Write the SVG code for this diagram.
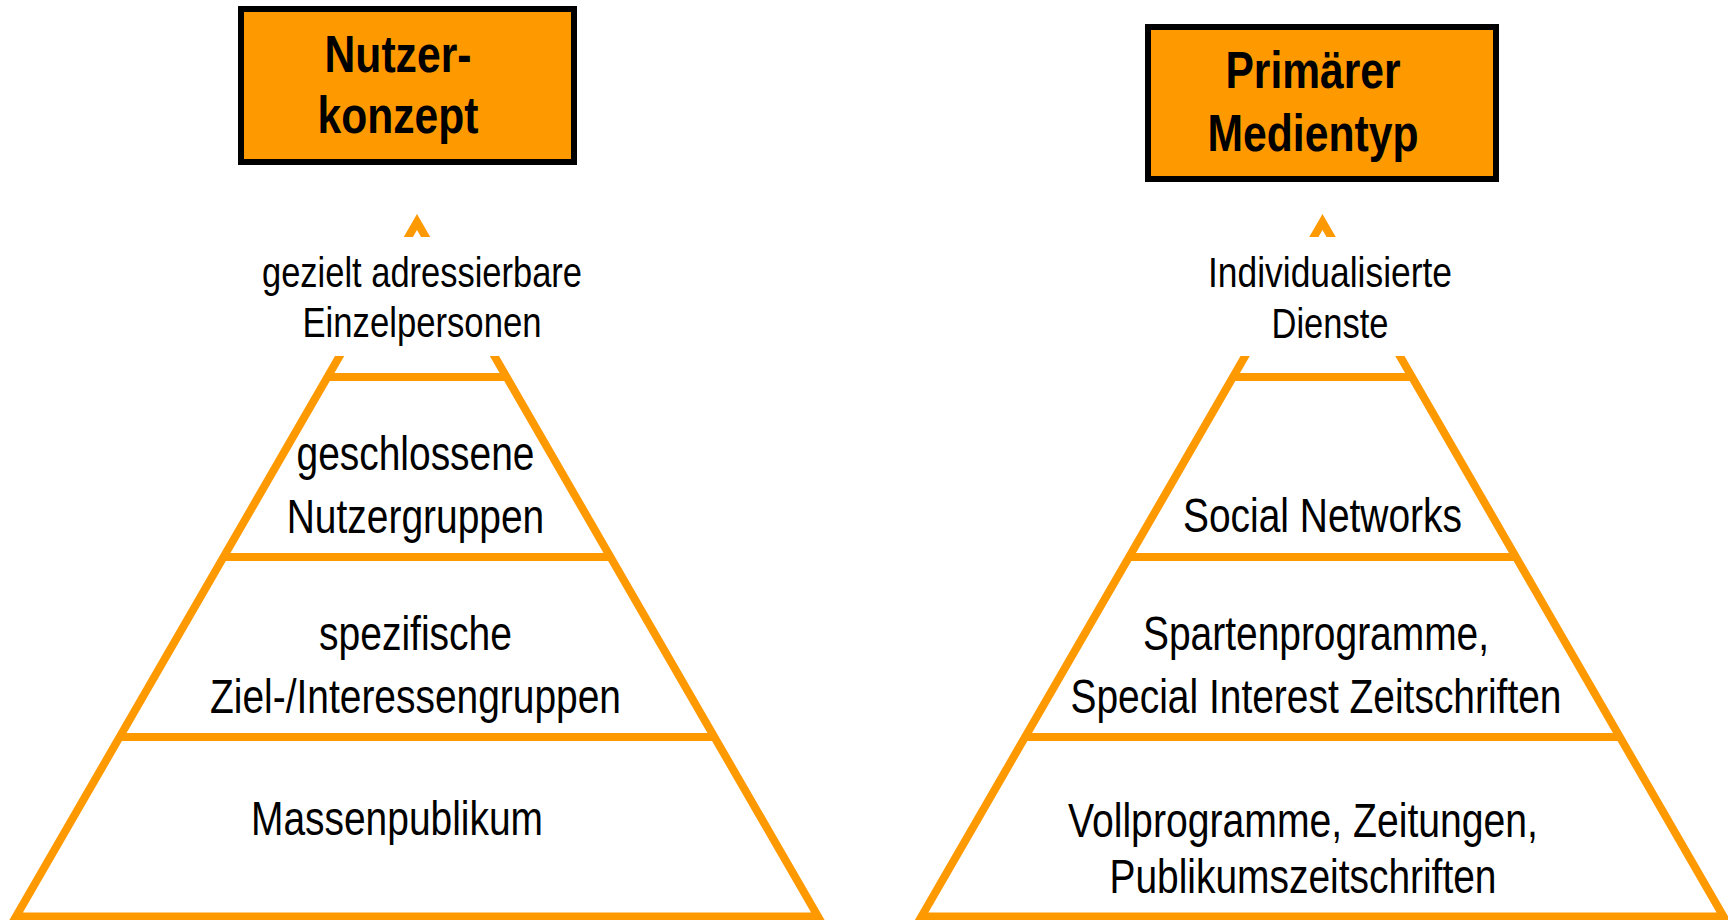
<svg xmlns="http://www.w3.org/2000/svg" width="1728" height="920" viewBox="0 0 1728 920">
<style>
.box{fill:#FF9900;stroke:#000;stroke-width:6}
.pyr{fill:#fff;stroke:#FF9900;stroke-width:8;stroke-linejoin:miter}
.band{stroke:#FF9900;stroke-width:8;fill:none}
.mask{fill:#fff;stroke:none}
text{font-family:"Liberation Sans Narrow","Arial Narrow","Liberation Sans",Arial,sans-serif;fill:#000;text-anchor:middle}
.h{font-weight:bold;font-size:52px}
.b{font-size:47.5px}
.s{font-size:42px}
</style>
<rect width="1728" height="920" fill="#fff"/>

<g id="box-nutzerkonzept">
<rect class="box" x="241" y="9" width="333" height="153"/>
<text class="h" x="398" y="72" textLength="147" lengthAdjust="spacingAndGlyphs">Nutzer-</text>
<text class="h" x="398" y="133" textLength="161" lengthAdjust="spacingAndGlyphs">konzept</text>
</g>

<g id="box-medientyp">
<rect class="box" x="1148" y="27" width="348" height="152"/>
<text class="h" x="1313" y="88" textLength="175" lengthAdjust="spacingAndGlyphs">Primärer</text>
<text class="h" x="1313" y="151" textLength="211" lengthAdjust="spacingAndGlyphs">Medientyp</text>
</g>

<g id="pyramid-left">
<polygon class="pyr" points="417,222 818,916.5 16,916.5"/>
<line class="band" x1="327" y1="377" x2="507" y2="377"/>
<line class="band" x1="223" y1="557" x2="611" y2="557"/>
<line class="band" x1="119" y1="737" x2="715" y2="737"/>
<rect class="mask" x="300" y="237" width="240" height="119"/>
</g>

<g id="pyramid-right">
<polygon class="pyr" points="1322.5,222 1723.5,916.5 921.5,916.5"/>
<line class="band" x1="1233" y1="377" x2="1412" y2="377"/>
<line class="band" x1="1129" y1="557" x2="1516" y2="557"/>
<line class="band" x1="1025" y1="737" x2="1620" y2="737"/>
<rect class="mask" x="1200" y="237" width="250" height="119"/>
</g>

<g id="left-top">
<text class="s" x="422" y="287" textLength="320" lengthAdjust="spacingAndGlyphs">gezielt adressierbare</text>
<text class="s" x="422" y="337" textLength="239" lengthAdjust="spacingAndGlyphs">Einzelpersonen</text>
</g>
<g id="left-layer1">
<text class="b" x="415.5" y="470" textLength="238" lengthAdjust="spacingAndGlyphs">geschlossene</text>
<text class="b" x="415.5" y="533" textLength="257.6" lengthAdjust="spacingAndGlyphs">Nutzergruppen</text>
</g>
<g id="left-layer2">
<text class="b" x="415.5" y="650" textLength="193" lengthAdjust="spacingAndGlyphs">spezifische</text>
<text class="b" x="415.5" y="713" textLength="411" lengthAdjust="spacingAndGlyphs">Ziel-/Interessengruppen</text>
</g>
<g id="left-layer3">
<text class="b" x="397" y="835" textLength="292" lengthAdjust="spacingAndGlyphs">Massenpublikum</text>
</g>

<g id="right-top">
<text class="s" x="1330" y="287" textLength="244" lengthAdjust="spacingAndGlyphs">Individualisierte</text>
<text class="s" x="1330" y="338" textLength="117" lengthAdjust="spacingAndGlyphs">Dienste</text>
</g>
<g id="right-layer1">
<text class="b" x="1322.5" y="532" textLength="279" lengthAdjust="spacingAndGlyphs">Social Networks</text>
</g>
<g id="right-layer2">
<text class="b" x="1316" y="650" textLength="346" lengthAdjust="spacingAndGlyphs">Spartenprogramme,</text>
<text class="b" x="1316" y="713" textLength="491" lengthAdjust="spacingAndGlyphs">Special Interest Zeitschriften</text>
</g>
<g id="right-layer3">
<text class="b" x="1303" y="837" textLength="470" lengthAdjust="spacingAndGlyphs">Vollprogramme, Zeitungen,</text>
<text class="b" x="1303" y="893" textLength="387" lengthAdjust="spacingAndGlyphs">Publikumszeitschriften</text>
</g>
</svg>
